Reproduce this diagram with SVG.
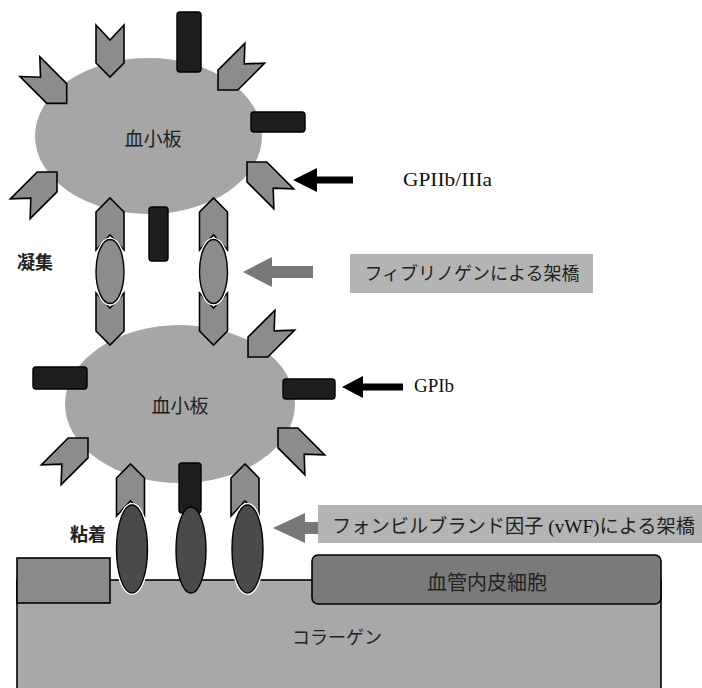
<svg xmlns="http://www.w3.org/2000/svg" width="702" height="688" viewBox="0 0 702 688">
  <style>
    .platelet { fill: #a6a6a6; }
    .rcp { fill: #8c8c8c; stroke: #000; stroke-width: 1.6; stroke-linejoin: miter; }
    .gpib { fill: #1e1e1e; stroke: #000; stroke-width: 1.4; }
    .fib { fill: #8c8c8c; stroke: #000; stroke-width: 1.4; }
    .vwf { fill: #4a4a4a; stroke: #000; stroke-width: 1.4; }
    .halo { fill: none; stroke: #fff; stroke-width: 4; }
    .jp { font-family: "Noto Sans CJK JP", "Noto Sans", sans-serif; fill: #222; }
    .lat { font-family: "Liberation Serif", "DejaVu Serif", serif; fill: #111; }
    .box { fill: #b4b4b4; }
  </style>
  <defs>
    <!-- receptor chevron, centred on origin, pointing to +y -->
    <path id="chev" d="M-14,-26 L0,-11 L14,-26 L14,12 L0,26 L-14,12 Z"/>
  </defs>

  <!-- vessel wall -->
  <g id="collagen">
    <rect x="17" y="580" width="644" height="120" fill="#a8a8a8" stroke="#000" stroke-width="1.6"/>
    <text class="jp" x="337" y="644" font-size="18" text-anchor="middle">コラーゲン</text>
  </g>
  <g id="wall-left">
    <rect x="17" y="558" width="93" height="45" fill="#8a8a8a" stroke="#000" stroke-width="1.6"/>
  </g>
  <g id="endothelium">
    <rect x="312" y="555" width="349" height="49" rx="6" fill="#7a7a7a" stroke="#000" stroke-width="1.6"/>
    <text class="jp" x="487" y="590" font-size="20" text-anchor="middle">血管内皮細胞</text>
  </g>

  <!-- upper platelet -->
  <g id="platelet-top">
    <ellipse class="platelet" cx="148.5" cy="136" rx="113.5" ry="78"/>
    <text class="jp" x="153" y="146" font-size="19" text-anchor="middle" fill="#333">血小板</text>
    <use href="#chev" class="rcp" transform="translate(110,51)"/>
    <use href="#chev" class="rcp" transform="translate(48.3,85) rotate(-45)"/>
    <use href="#chev" class="rcp" transform="translate(236.4,71.6) rotate(45)"/>
    <use href="#chev" class="rcp" transform="translate(265.4,180.4) rotate(135)"/>
    <use href="#chev" class="rcp" transform="translate(38.6,190.4) rotate(-135)"/>
    <use href="#chev" class="rcp" transform="translate(110,224) rotate(180)"/>
    <use href="#chev" class="rcp" transform="translate(213.5,224) rotate(180)"/>
    <rect class="gpib" x="177" y="12" width="24" height="60" rx="3"/>
    <rect class="gpib" x="251" y="112" width="54" height="20" rx="3"/>
    <rect class="gpib" x="149" y="207" width="19" height="54" rx="3"/>
  </g>

  <!-- lower platelet -->
  <g id="platelet-bottom">
    <ellipse class="platelet" cx="180" cy="404" rx="115" ry="79"/>
    <text class="jp" x="180" y="413" font-size="19" text-anchor="middle" fill="#333">血小板</text>
    <use href="#chev" class="rcp" transform="translate(110,319)"/>
    <use href="#chev" class="rcp" transform="translate(213.5,319)"/>
    <use href="#chev" class="rcp" transform="translate(266.4,338.6) rotate(45)"/>
    <use href="#chev" class="rcp" transform="translate(296.4,446.4) rotate(135)"/>
    <use href="#chev" class="rcp" transform="translate(69.6,456.4) rotate(-135)"/>
    <use href="#chev" class="rcp" transform="translate(130.5,490) rotate(180)"/>
    <use href="#chev" class="rcp" transform="translate(245,490) rotate(180)"/>
    <rect class="gpib" x="33" y="367" width="54" height="22" rx="3"/>
    <rect class="gpib" x="283" y="379" width="52" height="20" rx="3"/>
    <rect class="gpib" x="179" y="463" width="22" height="50" rx="3"/>
  </g>

  <!-- fibrinogen bridges -->
  <g id="fibrinogen">
    <ellipse class="halo" cx="110" cy="271.5" rx="14" ry="32"/>
    <ellipse class="fib" cx="110" cy="271.5" rx="14" ry="32"/>
    <ellipse class="halo" cx="213.5" cy="271.5" rx="14" ry="32"/>
    <ellipse class="fib" cx="213.5" cy="271.5" rx="14" ry="32"/>
  </g>

  <!-- von Willebrand factor bridges -->
  <g id="vwf">
    <ellipse class="halo" cx="132" cy="549" rx="15.5" ry="44"/>
    <ellipse class="vwf" cx="132" cy="549" rx="15.5" ry="44"/>
    <ellipse class="vwf" cx="191" cy="550" rx="15" ry="43"/>
    <ellipse class="halo" cx="247.5" cy="549" rx="15.5" ry="44"/>
    <ellipse class="vwf" cx="247.5" cy="549" rx="15.5" ry="44"/>
  </g>

  <!-- side labels -->
  <g id="label-aggregation">
    <text class="jp" x="35" y="269" font-size="18" font-weight="bold" text-anchor="middle">凝集</text>
  </g>
  <g id="label-adhesion">
    <text class="jp" x="88" y="541" font-size="18" font-weight="bold" text-anchor="middle">粘着</text>
  </g>

  <!-- pointer arrows -->
  <g id="connectors">
    <polygon fill="#000" points="293,180 317,168 317,176.5 353,176.5 353,183.5 317,183.5 317,192"/>
    <polygon fill="#000" points="342,387 363,376 363,383.5 403,383.5 403,390.5 363,390.5 363,398"/>
    <polygon fill="#777" points="243,272 272,257 272,266 313,266 313,278 272,278 272,287"/>
    <polygon fill="#777" points="273,528 305,513 305,522 318,522 318,534 305,534 305,543"/>
  </g>

  <g id="label-gpiib">
    <text class="lat" x="403" y="186" font-size="19" textLength="89" lengthAdjust="spacingAndGlyphs">GPIIb/IIIa</text>
  </g>
  <g id="label-gpib">
    <text class="lat" x="414" y="392" font-size="19">GPIb</text>
  </g>
  <g id="label-fibrinogen">
    <rect class="box" x="350" y="254" width="243" height="39"/>
    <text class="jp" x="472" y="280" font-size="18" text-anchor="middle">フィブリノゲンによる架橋</text>
  </g>
  <g id="label-vwf">
    <rect class="box" x="318" y="505" width="384" height="38"/>
    <text class="jp" x="332" y="533" font-size="19" textLength="363" lengthAdjust="spacingAndGlyphs">フォンビルブランド因子<tspan class="lat" font-size="19"> (vWF)</tspan>による架橋</text>
  </g>
</svg>
